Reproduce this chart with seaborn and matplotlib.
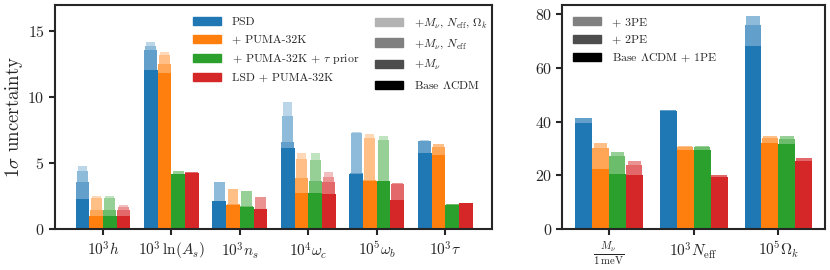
import matplotlib
matplotlib.use('Agg')
import matplotlib.pyplot as plt
from matplotlib.patches import Patch
from matplotlib.colors import to_rgb
import numpy as np
import pandas as pd
import seaborn as sns

# Parameters and probes
params_left = [r'$10^3h$', r'$10^3\,\ln(A_s)$', r'$10^3n_s$', r'$10^4\omega_c$', r'$10^5\omega_b$', r'$10^3\tau$']
params_right = [r'$\frac{M_\nu}{1\;\mathrm{meV}}$', r'$10^3N_{\rm eff}$', r'$10^5\Omega_k$']
probes = ['PSD', '+ PUMA-32K', r'+ PUMA-32K + $\tau$ prior', 'LSD + PUMA-32K']
probe_colors = ['tab:blue', 'tab:orange', 'tab:green', 'tab:red']

# Left panel, 1 sigma uncertainties (rows: probes, cols: params)
base_lcdm = [[2.30, 12.05, 2.09, 6.12, 4.20, 5.79],
             [0.95, 11.80, 1.84, 2.72, 3.63, 5.64],
             [0.95, 4.18, 1.66, 2.72, 3.63, 1.84],
             [0.95, 4.28, 1.51, 2.65, 2.22, 1.97]]
plus_mnu = [[3.58, 13.54, 2.10, 6.60, 4.25, 6.65],
            [1.46, 12.50, 1.86, 3.83, 3.70, 6.20],
            [1.41, 4.20, 1.76, 3.65, 3.65, 1.86],
            [1.41, 4.30, 1.55, 3.53, 3.43, 1.98]]
plus_mnu_neff = [[4.43, 13.87, 3.55, 8.57, 7.25, 6.70],
                 [2.35, 13.18, 3.03, 5.30, 6.93, 6.45],
                 [2.35, 4.40, 2.85, 5.24, 6.75, 1.87],
                 [1.66, 4.31, 2.42, 3.93, 3.45, 1.99]]
plus_mnu_neff_ok = [[4.74, 14.20, 3.57, 9.63, 7.38, 6.72],
                    [2.52, 13.39, 3.05, 5.79, 7.18, 6.48],
                    [2.50, 4.43, 2.87, 5.79, 7.06, 1.88],
                    [1.84, 4.33, 2.44, 4.33, 3.48, 2.00]]

# Right panel
base_1pe = [[39.4, 43.8, 68.3],
            [22.3, 29.5, 32.2],
            [20.6, 29.5, 31.7],
            [20.2, 19.3, 25.2]]
plus_2pe = [[41.3, 44.4, 76.0],
            [30.1, 30.7, 33.9],
            [27.3, 30.7, 33.5],
            [23.8, 19.95, 26.5]]
plus_3pe = [[41.4, 44.5, 79.5],
            [32.0, 30.8, 34.8],
            [28.5, 30.8, 34.7],
            [25.3, 20.0, 26.6]]

left_layers = [plus_mnu_neff_ok, plus_mnu_neff, plus_mnu, base_lcdm]
left_alphas = [0.3, 0.5, 0.7, 1.0]
left_shrink = [0.65, 0.8, 0.95, 1.0]
left_labels = [r'$+M_\nu$, $N_{\rm eff}$, $\Omega_k$', r'$+M_\nu$, $N_{\rm eff}$', r'$+M_\nu$', r'Base $\Lambda$CDM']

right_layers = [plus_3pe, plus_2pe, base_1pe]
right_alphas = [0.5, 0.7, 1.0]
right_shrink = [0.8, 0.95, 1.0]
right_labels = ['+ 3PE', '+ 2PE', r'Base $\Lambda$CDM + 1PE']

sns.set_style('ticks')
plt.rcParams['font.family'] = 'serif'
plt.rcParams['font.serif'] = ['cmr10', 'DejaVu Serif']
plt.rcParams['mathtext.fontset'] = 'cm'
plt.rcParams['axes.formatter.use_mathtext'] = True
plt.rcParams['axes.unicode_minus'] = False


def faded(color, alpha):
    c = np.array(to_rgb(color))
    return tuple(alpha * c + (1 - alpha))


def to_long(values, params):
    rows = []
    for probe, vals in zip(probes, values):
        for p, v in zip(params, vals):
            rows.append({'param': p, 'probe': probe, 'value': v})
    return pd.DataFrame(rows)


def draw_layers(ax, layers, alphas, shrink, params):
    # lightest (largest) layer first, each following layer painted on top
    for vals, a, f in zip(layers, alphas, shrink):
        n0 = len(ax.patches)
        sns.barplot(data=to_long(vals, params), x='param', y='value', hue='probe',
                    order=params, hue_order=probes,
                    palette=[faded(c, a) for c in probe_colors],
                    saturation=1, width=0.8, linewidth=0, legend=False, ax=ax)
        for p in ax.patches[n0:]:
            w = p.get_width()
            p.set_x(p.get_x() + w * (1 - f) / 2)
            p.set_width(w * f)


fig = plt.figure(figsize=(8.3, 2.7), dpi=100)
ax1 = fig.add_axes([0.0663, 0.152, 0.527, 0.83])
ax2 = fig.add_axes([0.6775, 0.152, 0.3165, 0.83])

draw_layers(ax1, left_layers, left_alphas, left_shrink, params_left)
draw_layers(ax2, right_layers, right_alphas, right_shrink, params_right)

ax1.set_xlim(-0.7, 5.69)
ax1.set_ylim(0, 17)
ax1.set_yticks([0, 5, 10, 15])
ax2.set_xlim(-0.55, 2.55)
ax2.set_ylim(0, 83.5)
ax2.set_yticks([0, 20, 40, 60, 80])

ax1.set_ylabel(r'$1\sigma$ uncertainty', fontsize=13.5)
ax1.yaxis.set_label_coords(-0.068, 0.5)
ax2.set_ylabel('')
for ax in (ax1, ax2):
    ax.set_xlabel('')
    for s in ax.spines.values():
        s.set_linewidth(1.5)
    ax.tick_params(axis='both', width=1.5, length=4, labelsize=11.5)
    ax.tick_params(axis='x', labelsize=11, pad=4)

# legends
leg_kw = dict(loc='upper left', frameon=False, fontsize=8.5, borderpad=0, borderaxespad=0,
              handlelength=2.4, labelspacing=0.6, handletextpad=0.9)
probe_handles = [Patch(color=c) for c in probe_colors]
leg1 = ax1.legend(probe_handles, probes, bbox_to_anchor=(0.315, 0.945), **leg_kw)
ax1.add_artist(leg1)
gray_handles = [Patch(color=faded('black', a)) for a in left_alphas]
ax1.legend(gray_handles, left_labels, bbox_to_anchor=(0.731, 0.945), **leg_kw)

gray_handles2 = [Patch(color=faded('black', a)) for a in right_alphas]
ax2.legend(gray_handles2, right_labels, bbox_to_anchor=(0.041, 0.945), **leg_kw)

fig.savefig('out.png', dpi=100)
